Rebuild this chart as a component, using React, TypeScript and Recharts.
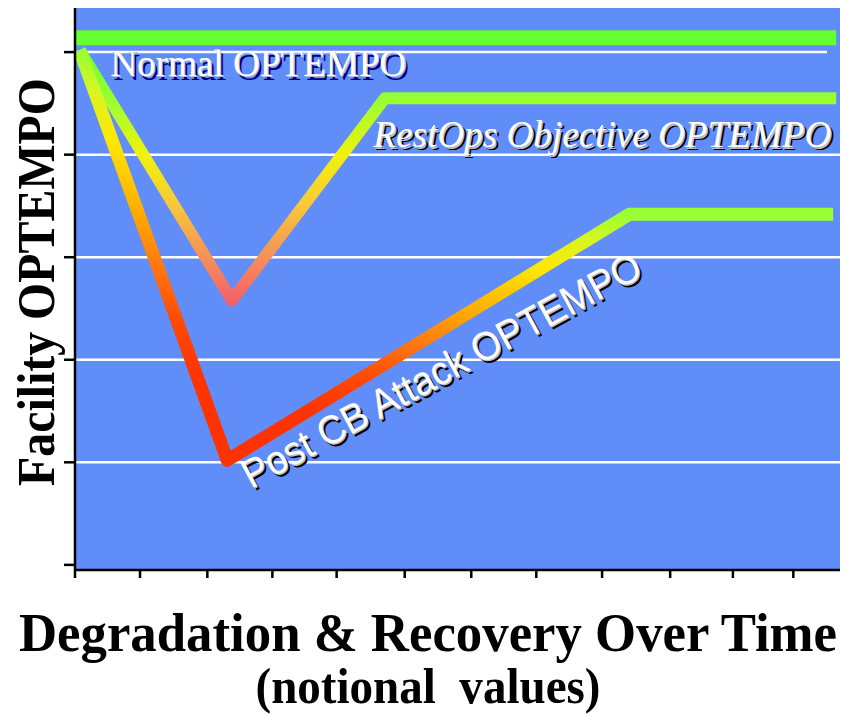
import React from "react";
import {
  LineChart, Line, XAxis, YAxis, CartesianGrid, ReferenceLine, ReferenceDot,
} from "recharts";

// notional values (x: 0..100 time, y: 0..5 OPTEMPO)
const xTicks = [0, 8.5, 17.3, 25.8, 34.2, 43.1, 51.8, 60.3, 68.9, 77.8, 86.0, 93.9];
const yTicks = [0, 1, 2, 3, 4, 5];
const gridValues = [1, 2, 3, 4];
const topGridValue = 5;
const topGridEnd = 98.3;

const normalX = [0, 99.5];
const normalY = [5.14, 5.14];
const restOpsX = [0.6, 20.5, 40.5, 99.5];
const restOpsY = [5.02, 2.58, 4.55, 4.55];
const postCbX = [0.6, 19.9, 72.5, 99.1];
const postCbY = [5.02, 1.02, 3.42, 3.42];

const toPoints = (xs: number[], ys: number[]) => xs.map((x, i) => ({ x, y: ys[i] }));
const normalData = toPoints(normalX, normalY);
const restOpsData = toPoints(restOpsX, restOpsY);
const postCbData = toPoints(postCbX, postCbY);

const SERIF = '"Liberation Serif", "Times New Roman", serif';
const SANS = '"Liberation Sans", Arial, sans-serif';
const BLUE = "#618DF8";

type ShadowProps = {
  x: number; y: number; text: string; size: number; family: string;
  italic?: boolean; shadow: string; dx: number; dy: number; angle?: number; length: number;
};

function ShadowText({ x, y, text, size, family, italic, shadow, dx, dy, angle = 0, length }: ShadowProps) {
  const common = {
    fontSize: size,
    fontFamily: family,
    fontStyle: italic ? "italic" : "normal",
    textLength: length,
    lengthAdjust: "spacingAndGlyphs",
  } as any;
  const layer = (ox: number, oy: number, fill: string) => (
    <g transform={`translate(${ox} ${oy}) rotate(${angle} ${x} ${y})`}>
      <text x={x} y={y} fill={fill} {...common}>{text}</text>
    </g>
  );
  return (
    <g>
      {layer(dx, dy, shadow)}
      {layer(1.3, 1.3, "#B9BCCB")}
      {layer(0, 0, "#FFFFFF")}
    </g>
  );
}

const labelAt = (opts: Omit<ShadowProps, "x" | "y">) => (p: any) => {
  const vb = p?.viewBox ?? { x: 0, y: 0 };
  return <ShadowText x={vb.x} y={vb.y} {...opts} />;
};

// tick marks only, no tick text
const noTickText = () => <g />;

export default function App() {
  return (
    <div style={{ position: "absolute", left: 0, top: 0, background: "#fff" }}>
      <LineChart width={848} height={714} margin={{ top: 8, right: 8, left: 0, bottom: 0 }}>
        <defs>
          <linearGradient id="restGrad" x1="0" y1="0" x2="0" y2="1">
            <stop offset="0" stopColor="#66FF33" />
            <stop offset="0.2" stopColor="#99FF33" />
            <stop offset="0.42" stopColor="#F2F20A" />
            <stop offset="0.62" stopColor="#F8C83A" />
            <stop offset="0.82" stopColor="#F69258" />
            <stop offset="1" stopColor="#F5626A" />
          </linearGradient>
          <linearGradient id="postGrad" x1="0" y1="0" x2="-0.377" y2="0.686">
            <stop offset="0" stopColor="#99FF33" />
            <stop offset="0.1" stopColor="#D8F520" />
            <stop offset="0.22" stopColor="#FFE800" />
            <stop offset="0.38" stopColor="#FFB000" />
            <stop offset="0.52" stopColor="#FF7A10" />
            <stop offset="0.66" stopColor="#FF4A05" />
            <stop offset="0.8" stopColor="#FF3300" />
            <stop offset="1" stopColor="#FF3300" />
          </linearGradient>
        </defs>

        <CartesianGrid fill={BLUE} fillOpacity={1} horizontal={false} vertical={false} />

        <XAxis
          type="number" dataKey="x" domain={[0, 100]} ticks={xTicks} allowDataOverflow
          tick={noTickText} tickSize={8} height={144}
          axisLine={{ stroke: "#000", strokeWidth: 2.5 }}
          tickLine={{ stroke: "#000", strokeWidth: 2.5 }}
          label={(p: any) => {
            const vb = p.viewBox;
            const cx = 428;
            return (
              <g>
                <text x={cx} y={vb.y + 81} textAnchor="middle" fontFamily={SERIF} fontWeight="bold"
                  fontSize={55} textLength={818} lengthAdjust="spacingAndGlyphs" fill="#000">
                  Degradation &amp; Recovery Over Time
                </text>
                <text x={cx} y={vb.y + 133} textAnchor="middle" fontFamily={SERIF} fontWeight="bold"
                  fontSize={50} textLength={345} lengthAdjust="spacingAndGlyphs" fill="#000"
                  style={{ whiteSpace: "pre" }}>
                  {"(notional  values)"}
                </text>
              </g>
            );
          }}
        />
        <YAxis
          type="number" domain={[-0.05, 5.43]} ticks={yTicks} allowDataOverflow
          tick={noTickText} tickSize={11} width={75}
          axisLine={{ stroke: "#000", strokeWidth: 2.5 }}
          tickLine={{ stroke: "#000", strokeWidth: 2.5 }}
          label={() => {
            const x = 54;
            const y = 282;
            return (
              <text x={x} y={y} transform={`rotate(-90 ${x} ${y})`} textAnchor="middle"
                fontFamily={SERIF} fontWeight="bold" fontSize={52} textLength={408}
                lengthAdjust="spacingAndGlyphs" fill="#000">
                Facility OPTEMPO
              </text>
            );
          }}
        />

        {gridValues.map((v) => (
          <ReferenceLine key={v} y={v} stroke="#FFFFFF" strokeWidth={2.5} />
        ))}
        <ReferenceLine
          segment={[{ x: 0, y: topGridValue }, { x: topGridEnd, y: topGridValue }]}
          stroke="#FFFFFF" strokeWidth={2.5}
        />

        <Line data={normalData} dataKey="y" type="linear" stroke="#66FF33" strokeWidth={15}
          strokeLinecap="butt" dot={false} activeDot={false} isAnimationActive={false} />
        <Line data={restOpsData} dataKey="y" type="linear" stroke="url(#restGrad)" strokeWidth={12}
          strokeLinejoin="round" strokeLinecap="butt" dot={false} activeDot={false} isAnimationActive={false} />
        <Line data={postCbData} dataKey="y" type="linear" stroke="url(#postGrad)" strokeWidth={13}
          strokeLinejoin="round" strokeLinecap="butt" dot={false} activeDot={false} isAnimationActive={false} />

        <ReferenceDot x={4.6} y={4.77} r={0} fill="none" stroke="none"
          label={labelAt({ text: "Normal OPTEMPO", size: 37, family: SERIF, shadow: "#000080", dx: 3, dy: 4, length: 296 })} />
        <ReferenceDot x={39.0} y={4.07} r={0} fill="none" stroke="none"
          label={labelAt({ text: "RestOps Objective OPTEMPO", size: 38, family: SERIF, italic: true, shadow: "#000000", dx: 3, dy: 3, length: 458 })} />
        <ReferenceDot x={23.0} y={0.74} r={0} fill="none" stroke="none"
          label={labelAt({ text: "Post CB Attack OPTEMPO", size: 40, family: SANS, shadow: "#000000", dx: 3, dy: 3, angle: -28.5, length: 448 })} />
      </LineChart>
    </div>
  );
}
